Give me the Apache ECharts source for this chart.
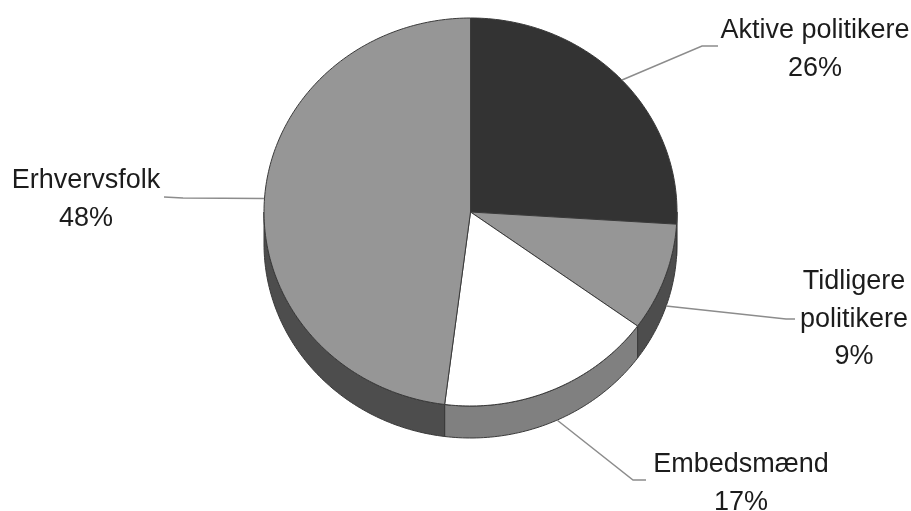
<!DOCTYPE html>
<html>
<head>
<meta charset="utf-8">
<script src="https://cdn.jsdelivr.net/npm/echarts@6/dist/echarts.min.js"></script>
<style>
html,body{margin:0;padding:0;background:#fff}
#c{width:911px;height:511px;filter:blur(0.55px)}
</style>
</head>
<body>
<div id="c"></div>
<script>
// Data
var categories = ['Aktive politikere', 'Tidligere\npolitikere', 'Embedsmænd', 'Erhvervsfolk'];
var shares = [26, 9, 17, 48];

// Styles
var topColors = ['#333333', '#969696', '#ffffff', '#969696'];
var wallColors = ['#1a1a1a', '#4d4d4d', '#808080', '#4d4d4d'];

// Layout
var CX = 470.5, CY = 212, RX = 206.5, RY = 194, DEPTH = 32;
var labelLayout = [
  {x: 815, y: 30},
  {x: 854, y: 281},
  {x: 741, y: 464},
  {x: 86, y: 180}
];
var leaderLayout = [
  [[622, 80], [702, 46], [718, 46]],
  [[666, 306], [786, 319], [795, 319]],
  [[557, 420], [633, 480], [646, 480]],
  [[264, 198.5], [183, 198], [164, 197]]
];

var total = shares.reduce(function (a, b) { return a + b; }, 0);
function pt(deg, dy) {
  var t = deg * Math.PI / 180;
  return [CX + RX * Math.sin(t), CY + (dy || 0) - RY * Math.cos(t)];
}
function arc(a, b, dy) {
  var pts = [], n = Math.max(2, Math.ceil(Math.abs(b - a)));
  for (var i = 0; i <= n; i++) pts.push(pt(a + (b - a) * i / n, dy));
  return pts;
}

function renderSlice(params, api) {
  var i = params.dataIndex, before = 0;
  for (var k = 0; k < i; k++) before += shares[k];
  var a = before / total * 360;
  var b = a + api.value(0) / total * 360;
  var children = [];

  var wa = Math.max(a, 90), wb = Math.min(b, 270);
  if (wb > wa) {
    var wall = arc(wa, wb, 0).concat(arc(wb, wa, DEPTH));
    children.push({
      type: 'polygon', shape: {points: wall},
      style: {fill: wallColors[i], stroke: '#3a3a3a', lineWidth: 1}
    });
  }
  var top = [[CX, CY]].concat(arc(a, b, 0));
  children.push({
    type: 'polygon', shape: {points: top},
    style: {fill: topColors[i], stroke: '#3a3a3a', lineWidth: 1, lineJoin: 'round'}
  });
  children.push({
    type: 'polyline', shape: {points: leaderLayout[i]},
    style: {fill: null, stroke: '#8c8c8c', lineWidth: 1.5}
  });
  children.push({
    type: 'text', z2: 10,
    style: {
      text: categories[i] + '\n' + api.value(0) + '%',
      x: labelLayout[i].x, y: labelLayout[i].y - 18,
      align: 'center', verticalAlign: 'top',
      fill: '#1c1c1c',
      font: '27px "Liberation Sans", Arial, sans-serif',
      lineHeight: 37.5
    }
  });
  return {type: 'group', children: children};
}

var chart = echarts.init(document.getElementById('c'), null, {renderer: 'canvas'});
chart.setOption({
  animation: false,
  backgroundColor: '#ffffff',
  series: [{
    type: 'custom',
    coordinateSystem: 'none',
    renderItem: renderSlice,
    data: shares.map(function (v, i) { return {name: categories[i], value: [v]}; })
  }]
});
</script>
</body>
</html>
